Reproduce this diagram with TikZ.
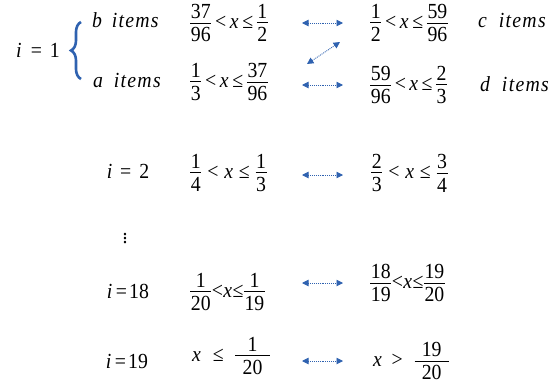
\documentclass[tikz,border=0pt]{standalone}
\usepackage{fontspec}
\setmainfont{Liberation Serif}[FakeStretch=0.92]
\usetikzlibrary{arrows.meta,decorations.pathreplacing}
\definecolor{arrblue}{RGB}{47,98,176}
\newcommand\fr[2]{\ensuremath{\vcenter{\offinterlineskip\halign{\hfil\hspace{0.7pt}##\hspace{0.7pt}\hfil\cr
  \rule{0pt}{0.66em}#1\cr\noalign{\kern4.2pt\hrule height 0.8pt\kern4pt}\rule{0pt}{0.68em}#2\cr}}}}
% inequality: num1 den1 num2 den2 spacing
\newcommand\ineq[5]{\fr{#1}{#2}\hspace{#5}<\hspace{#5}\textit{x}\hspace{#5}≤\hspace{#5}\fr{#3}{#4}}
\newcommand\itm{\textit{i\kern.06em t\kern.06em e\kern.06em m\kern.06em s}}
\begin{document}
\begin{tikzpicture}[x=1pt,y=-1pt,
  every node/.style={inner sep=0pt,font=\fontsize{21.5}{26}\selectfont},
  arr/.style={arrblue,densely dotted,line width=0.9pt,
    {Triangle[length=6.5pt,width=6.5pt]}-{Triangle[length=6.5pt,width=6.5pt]}}]
\useasboundingbox (0,0) rectangle (553,388);
% row i=1
\node[anchor=base] (i1) at (38,57) {\textit{i}\hspace{0.42em}=\hspace{0.37em}1};
\coordinate (bb) at (81,79);
\coordinate (bt) at (81,22);
\draw[arrblue,line width=2.6pt,decorate,decoration={brace,amplitude=10pt}] (bb) -- (bt);
\node[anchor=base west] (bit) at (92,27) {\textit{b}\hspace{0.45em}\itm};
\node[anchor=base west] (ait) at (93,87) {\textit{a}\hspace{0.5em}\itm};
\node[anchor=west] (L1) at (190,23) {\ineq{37}{96}{1}{2}{0.17em}};
\node[anchor=west] (L0) at (190,82) {\ineq{1}{3}{37}{96}{0.17em}};
\node[anchor=west] (R1) at (370,23) {\ineq{1}{2}{59}{96}{0.17em}};
\node[anchor=west] (R0) at (370,85) {\ineq{59}{96}{2}{3}{0.16em}};
\node[anchor=base west] (cit) at (478,27) {\textit{c}\hspace{0.55em}\itm};
\node[anchor=base west] (dit) at (480,91) {\textit{d}\hspace{0.55em}\itm};
\coordinate (a1l) at (302,23); \coordinate (a1r) at (343,23);
\coordinate (a0l) at (302,85); \coordinate (a0r) at (343,85);
\coordinate (adl) at (307,64); \coordinate (adr) at (340,42);
\draw[arr] (a1l) -- (a1r);
\draw[arr] (a0l) -- (a0r);
\draw[arr] (adl) -- (adr);
% row i=2
\node[anchor=base] (i2) at (128,178) {\textit{i}\hspace{0.37em}=\hspace{0.37em}2};
\node[anchor=west] (L2) at (190,173) {\ineq{1}{4}{1}{3}{0.27em}};
\node[anchor=west] (R2) at (371,173) {\ineq{2}{3}{3}{4}{0.27em}};
\coordinate (a2l) at (302,175); \coordinate (a2r) at (343,175);
\draw[arr] (a2l) -- (a2r);
% dots
\node (dots) at (125,236) {$\vdots$};
% row i=18
\node[anchor=base] (i18) at (128,298) {\textit{i}\hspace{0.16em}=\hspace{0.1em}18};
\node[anchor=west] (L18) at (190,292) {\ineq{1}{20}{1}{19}{0.02em}};
\node[anchor=west] (R18) at (370,283) {\ineq{18}{19}{19}{20}{0.02em}};
\coordinate (a18l) at (302,283); \coordinate (a18r) at (343,283);
\draw[arr] (a18l) -- (a18r);
% row i=19
\node[anchor=base] (i19) at (127,368) {\textit{i}\hspace{0.16em}=\hspace{0.1em}19};
\node[anchor=west] (L19) at (192,356) {\textit{x}\hspace{0.55em}≤\hspace{0.55em}\fr{\hspace{0.3em}1\hspace{0.3em}}{\hspace{0.3em}20\hspace{0.3em}}};
\node[anchor=west] (R19) at (373,361) {\textit{x}\hspace{0.45em}>\hspace{0.55em}\fr{\hspace{0.3em}19\hspace{0.3em}}{\hspace{0.3em}20\hspace{0.3em}}};
\coordinate (a19l) at (302,361); \coordinate (a19r) at (343,361);
\draw[arr] (a19l) -- (a19r);
\end{tikzpicture}
\end{document}
